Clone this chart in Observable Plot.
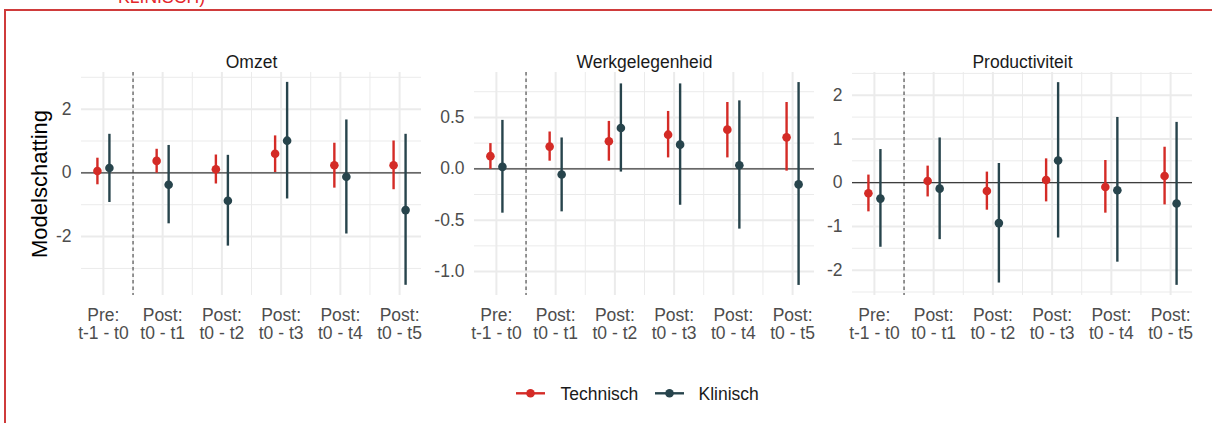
<!DOCTYPE html>
<html><head><meta charset="utf-8">
<script src="https://cdn.jsdelivr.net/npm/d3@7"></script>
<script src="https://cdn.jsdelivr.net/npm/@observablehq/plot@0.6"></script>
<style>
html,body{margin:0;padding:0;background:#fff;}
#root{position:relative;width:1212px;height:423px;overflow:hidden;background:#fff;font-family:"Liberation Sans",Arial,sans-serif;}
#frame{position:absolute;left:4px;top:9px;width:1300px;height:500px;border-top:2px solid #cf3b3b;border-left:2px solid #cf3b3b;box-sizing:border-box;}
svg{overflow:visible;}
</style></head>
<body><div id="root"><div id="frame"></div></div>
<script>
// ---- data ----
const categories = ["Pre:\nt-1 - t0", "Post:\nt0 - t1", "Post:\nt0 - t2", "Post:\nt0 - t3", "Post:\nt0 - t4", "Post:\nt0 - t5"];
const series = ["Technisch", "Klinisch"];
const seriesColors = ["#d42b26", "#27444c"];
const panelTitles = ["Omzet", "Werkgelegenheid", "Productiviteit"];
const yLabel = "Modelschatting";

// Omzet
const omzetTechEst = [0.06, 0.375, 0.115, 0.60, 0.24, 0.24];
const omzetTechLo  = [-0.375, -0.01, -0.35, 0.01, -0.48, -0.53];
const omzetTechHi  = [0.46, 0.74, 0.56, 1.16, 0.93, 1.0];
const omzetKlinEst = [0.15, -0.375, -0.875, 1.01, -0.125, -1.17];
const omzetKlinLo  = [-0.93, -1.6, -2.3, -0.82, -1.92, -3.53];
const omzetKlinHi  = [1.21, 0.86, 0.55, 2.84, 1.66, 1.21];
// Werkgelegenheid
const werkTechEst = [0.123, 0.216, 0.268, 0.332, 0.381, 0.306];
const werkTechLo  = [-0.006, 0.074, 0.074, 0.106, 0.106, -0.023];
const werkTechHi  = [0.245, 0.358, 0.461, 0.558, 0.645, 0.645];
const werkKlinEst = [0.019, -0.055, 0.397, 0.235, 0.035, -0.152];
const werkKlinLo  = [-0.432, -0.419, -0.032, -0.355, -0.587, -1.135];
const werkKlinHi  = [0.471, 0.30, 0.826, 0.826, 0.661, 0.839];
// Productiviteit
const prodTechEst = [-0.242, 0.038, -0.189, 0.061, -0.098, 0.152];
const prodTechLo  = [-0.667, -0.326, -0.629, -0.439, -0.697, -0.508];
const prodTechHi  = [0.174, 0.379, 0.242, 0.545, 0.508, 0.811];
const prodKlinEst = [-0.364, -0.136, -0.924, 0.508, -0.174, -0.477];
const prodKlinLo  = [-1.477, -1.303, -2.295, -1.265, -1.818, -2.348];
const prodKlinHi  = [0.758, 1.023, 0.439, 2.288, 1.492, 1.379];

// tick values
const omzetTicks = [-2, 0, 2];
const omzetMinor = [-3, -1, 1, 3];
const werkTicks = [-1, -0.5, 0, 0.5];
const werkMinor = [-0.75, -0.25, 0.25, 0.75];
const prodTicks = [-2, -1, 0, 1, 2];
const prodMinor = [-2.5, -1.5, -0.5, 0.5, 1.5, 2.5];
const xMinor = [0.5, 1.5, 2.5, 3.5, 4.5];

// ---- build ----
const root = document.getElementById("root");
const FONT = "'Liberation Sans', Arial, Helvetica, sans-serif";
const FS = 17.5;
const W = 340;

function rows(est, lo, hi) {
  return categories.map((c, i) => ({i, est: est[i], lo: lo[i], hi: hi[i]}));
}

function makePanel(cfg) {
  const tech = rows(cfg.techEst, cfg.techLo, cfg.techHi);
  const klin = rows(cfg.klinEst, cfg.klinLo, cfg.klinHi);
  const ml = cfg.ml;
  const marks = [
    Plot.ruleY(cfg.minor, {stroke: "#ebebeb", strokeWidth: 1}),
    Plot.ruleY(cfg.ticks, {stroke: "#ebebeb", strokeWidth: 2}),
    Plot.ruleX(xMinor, {stroke: "#ebebeb", strokeWidth: 1}),
    Plot.ruleX(d3.range(categories.length), {stroke: "#ebebeb", strokeWidth: 2}),
    Plot.ruleY([0], {stroke: "#3d3d3d", strokeWidth: 1.2}),
    Plot.ruleX([0.5], {stroke: "#444", strokeWidth: 1.1, strokeDasharray: "3.5,3"}),
    Plot.ruleX(tech, {x: "i", y1: "lo", y2: "hi", stroke: seriesColors[0], strokeWidth: 2.4, dx: -6}),
    Plot.ruleX(klin, {x: "i", y1: "lo", y2: "hi", stroke: seriesColors[1], strokeWidth: 2.4, dx: 6}),
    Plot.dot(tech, {x: "i", y: "est", fill: seriesColors[0], r: 4.3, dx: -6}),
    Plot.dot(klin, {x: "i", y: "est", fill: seriesColors[1], r: 4.3, dx: 6}),
    Plot.axisY(cfg.ticks, {tickSize: 0, tickPadding: 10, tickFormat: cfg.fmt, label: null, fill: "#4d4d4d", fontSize: FS}),
    Plot.axisX(d3.range(categories.length), {tickSize: 0, tickPadding: 12, tickFormat: i => categories[i], label: null, fill: "#4d4d4d", fontSize: FS, lineHeight: 1.06}),
    Plot.text([cfg.title], {text: d => d, frameAnchor: "top", dy: -16.6, fill: "#1a1a1a", fontSize: FS})
  ];
  if (cfg.yLabel) {
    marks.push(Plot.text([cfg.yLabel], {text: d => d, frameAnchor: "left", textAnchor: "middle", lineAnchor: "middle", dx: 39 - ml, rotate: -90, fill: "#000", fontSize: 22}));
  }
  const svg = Plot.plot({
    width: ml + W + 8,
    height: 305,
    marginLeft: ml, marginRight: 8, marginTop: 32, marginBottom: 50,
    x: {domain: [-0.37, 5.37], axis: null},
    y: {domain: cfg.domain, axis: null},
    style: {fontFamily: FONT, fontSize: FS + "px", background: "transparent", overflow: "visible"},
    marks
  });
  svg.style.position = "absolute";
  svg.style.left = (cfg.left - ml) + "px";
  svg.style.top = "40px";
  root.appendChild(svg);
}

const intFmt = d => String(d);
const decFmt = d => d.toFixed(1);

makePanel({title: panelTitles[0], left: 81, ml: 81, domain: [-3.85, 3.15], ticks: omzetTicks, minor: omzetMinor, fmt: intFmt,
  techEst: omzetTechEst, techLo: omzetTechLo, techHi: omzetTechHi,
  klinEst: omzetKlinEst, klinLo: omzetKlinLo, klinHi: omzetKlinHi, yLabel});
makePanel({title: panelTitles[1], left: 474, ml: 60, domain: [-1.233, 0.937], ticks: werkTicks, minor: werkMinor, fmt: decFmt,
  techEst: werkTechEst, techLo: werkTechLo, techHi: werkTechHi,
  klinEst: werkKlinEst, klinLo: werkKlinLo, klinHi: werkKlinHi});
makePanel({title: panelTitles[2], left: 852, ml: 40, domain: [-2.58, 2.52], ticks: prodTicks, minor: prodMinor, fmt: intFmt,
  techEst: prodTechEst, techLo: prodTechLo, techHi: prodTechHi,
  klinEst: prodKlinEst, klinLo: prodKlinLo, klinHi: prodKlinHi});

// ---- legend ----
const legendKeys = [516, 655];
const legendText = [560.5, 698.5];
const leg = d3.select(root).append("svg")
  .attr("width", 1212).attr("height", 40)
  .style("position", "absolute").style("left", "0px").style("top", "374px")
  .style("font-family", FONT);
series.forEach((s, k) => {
  const g = leg.append("g");
  g.append("line").attr("x1", legendKeys[k]).attr("x2", legendKeys[k] + 29)
    .attr("y1", 19.3).attr("y2", 19.3).attr("stroke", seriesColors[k]).attr("stroke-width", 2.4);
  g.append("circle").attr("cx", legendKeys[k] + 14.5).attr("cy", 19.3).attr("r", 4.3).attr("fill", seriesColors[k]);
  g.append("text").attr("x", legendText[k]).attr("y", 26).attr("font-size", FS).attr("fill", "#1a1a1a").text(s);
});

// ---- clipped caption fragment at top (cut off in the reference too) ----
const topCaption = d3.select(root).append("svg")
  .attr("width", 400).attr("height", 10)
  .style("position", "absolute").style("left", "0px").style("top", "0px");
topCaption.append("text").attr("x", 118).attr("y", 2.6).attr("font-size", 17.6)
  .attr("font-family", FONT).attr("fill", "#e3262a").text("KLINISCH)");
</script>
</body></html>
